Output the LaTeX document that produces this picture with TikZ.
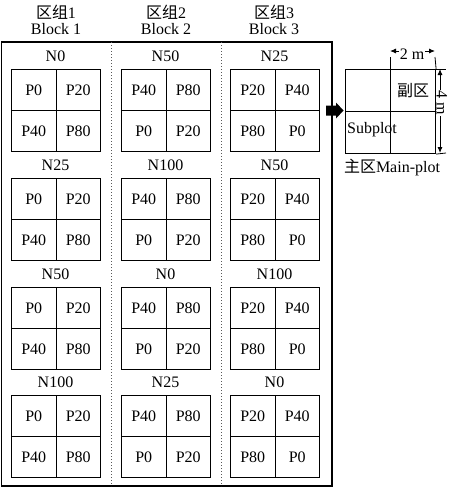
\documentclass[tikz,border=0pt]{standalone}
\usepackage{fontspec}
\setmainfont{Liberation Serif}
\newfontfamily\cjk{Noto Sans CJK SC}
\usetikzlibrary{arrows.meta}
\begin{document}
\begin{tikzpicture}[x=1pt,y=-1pt,
  txt/.style={font=\fontsize{16}{18}\selectfont,inner sep=0pt},
  cell/.style={draw,line width=1.1pt,minimum width=44.5pt,minimum height=41pt,inner sep=0pt,font=\fontsize{16}{18}\selectfont},
  sub/.style={draw,line width=1.1pt,minimum width=45pt,minimum height=42pt,inner sep=0pt,anchor=north west},
  frame/.style={line width=1.1pt},
  sep/.style={line width=1pt,dotted,gray!70!black},
  dim/.style={line width=0.8pt},
  dimarr/.style={line width=0.9pt,{Latex[length=6pt,width=5pt]}-{Latex[length=6pt,width=5pt]}}]
\useasboundingbox (0,0) rectangle (450,490);
% headers
\foreach \i/\x in {1/56,2/166,3/274}{
  \node[txt] (hc\i) at (\x,12) {{\cjk 区组}\i};
  \node[txt] (hb\i) at (\x,29) {Block \i};
}
% frame
\draw[frame] (1.5,42) rectangle (332,486);
\draw[sep] (111,42) -- (111,486);
\draw[sep] (221,42) -- (221,486);
% plots
\foreach \c/\x/\ta/\tb/\tc/\td/\la/\lb/\lc/\ld in {
  1/11/P0/P20/P40/P80/N0/N25/N50/N100,
  2/121/P40/P80/P0/P20/N50/N100/N0/N25,
  3/230/P20/P40/P80/P0/N25/N50/N100/N0}{
  \foreach \r/\y/\lab in {1/69/\la,2/178/\lb,3/287/\lc,4/395/\ld}{
    \node[txt] (l\c\r) at (\x+44.5,\y-13) {\lab};
    \node[cell,anchor=north west] (a\c\r) at (\x,\y) {\ta};
    \node[cell,anchor=north west] (b\c\r) at (\x+44.5,\y) {\tb};
    \node[cell,anchor=north west] (c\c\r) at (\x,\y+41) {\tc};
    \node[cell,anchor=north west] (d\c\r) at (\x+44.5,\y+41) {\td};
  }
}
% block arrow
\fill (326,105.5) -- (336,105.5) -- (336,102.5) -- (343.5,110.5) -- (336,118.5) -- (336,115.5) -- (326,115.5) -- cycle;
% subplot diagram
\node[sub] (s1) at (345,69) {};
\node[sub] (s2) at (390,69) {};
\node[sub] (s3) at (345,111) {};
\node[sub] (s4) at (390,111) {};
\node[txt] (fq) at (413,91) {\cjk 副区};
\node[txt] (sp) at (372,130) {Subplot};
\node[txt] (mp) at (392,168) {{\cjk 主区}Main-plot};
% dimensions
\coordinate (e1) at (390,57);
\coordinate (e2) at (435,57);
\draw[dim] (s2.north west) -- (e1);
\draw[dim] (s2.north east) -- (e2);
\draw[dimarr] ([yshift=6]e1) -- ([yshift=6]e2);
\node[txt,fill=white,inner sep=0.5pt] (d2) at (412,54) {2 m};
\coordinate (f1) at (446,69);
\coordinate (f2) at (446,153);
\draw[dim] (s2.north east) -- (f1);
\draw[dim] (s4.south east) -- (f2);
\draw[dimarr] ([xshift=-6]f1) -- ([xshift=-6]f2);
\node[txt,rotate=-90,fill=white,inner sep=1pt] (d4) at (442,103) {4 m};
\end{tikzpicture}
\end{document}
